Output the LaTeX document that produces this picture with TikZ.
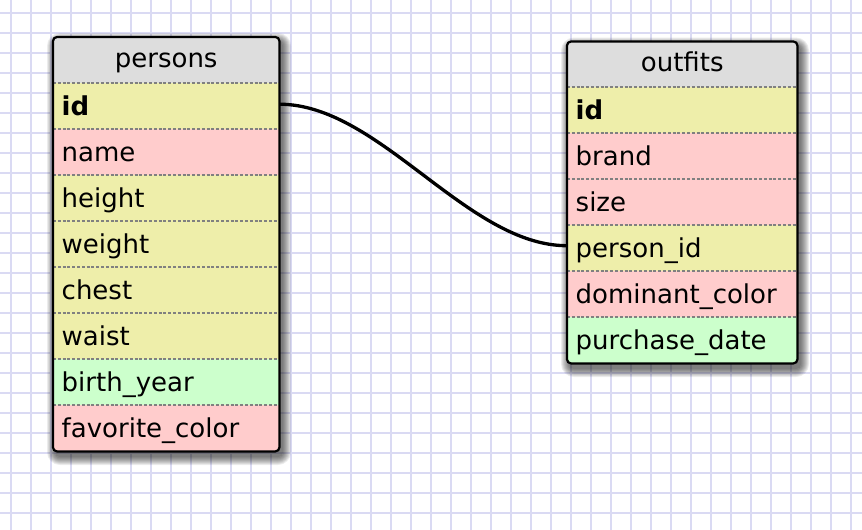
\documentclass[tikz,border=0pt]{standalone}
\usepackage{fontspec}
\setmainfont{DejaVu Sans}
\definecolor{gridc}{RGB}{218,218,243}
\definecolor{hdr}{RGB}{221,221,221}
\definecolor{yel}{RGB}{238,238,170}
\definecolor{pnk}{RGB}{255,204,204}
\definecolor{grn}{RGB}{204,255,204}
\definecolor{sepc}{RGB}{128,128,128}
\begin{document}
\begin{tikzpicture}[x=1pt,y=-1pt,
  field/.style={rectangle, anchor=north west, inner xsep=8.5pt, inner ysep=0pt,
    minimum height=46pt, text height=20pt, text depth=2pt, align=left,
    font=\fontsize{26}{30}\selectfont},
  pfield/.style={field, text width=209pt},
  ofield/.style={field, text width=213pt},
  hdrfield/.style={align=center, text height=18pt, text depth=3pt, fill=hdr},
  sep/.style={draw=sepc, line width=2pt, dash pattern=on 3pt off 1.8pt},
  border/.style={draw=black, line width=2.2pt, rounded corners=4pt},
  shadowlayer/.style={fill=black, fill opacity=0.075},
  conn/.style={draw=black, line width=3.3pt}
]
\useasboundingbox (0,0) rectangle (862,530);
\fill[white] (0,0) rectangle (862,530);
% grid
\foreach \gx in {11,31,...,851} \draw[gridc, line width=2.2pt] (\gx,0) -- (\gx,530);
\foreach \gy in {13,33,...,513} \draw[gridc, line width=2.2pt] (0,\gy) -- (862,\gy);

% shadows
\foreach \e in {1,...,9} {
  \fill[shadowlayer, rounded corners={4pt+\e pt}] (56-\e,42-\e) rectangle (282+\e,456+\e);
  \fill[shadowlayer, rounded corners={4pt+\e pt}] (570-\e,46.5-\e) rectangle (800+\e,368+\e);
}

% persons table
\begin{scope}
\clip[rounded corners=4pt] (53,37) rectangle (279,451);
\node[pfield, hdrfield] (p-hdr) at (53,37) {persons};
\node[pfield, fill=yel] (p-id) at (53,83) {\textbf{id}};
\node[pfield, fill=pnk] (p-name) at (53,129) {name};
\node[pfield, fill=yel] (p-height) at (53,175) {height};
\node[pfield, fill=yel] (p-weight) at (53,221) {weight};
\node[pfield, fill=yel] (p-chest) at (53,267) {chest};
\node[pfield, fill=yel] (p-waist) at (53,313) {waist};
\node[pfield, fill=grn] (p-birth) at (53,359) {birth\_year};
\node[pfield, fill=pnk] (p-fav) at (53,405) {favorite\_color};
\end{scope}
\foreach \r in {p-id,p-name,p-height,p-weight,p-chest,p-waist,p-birth,p-fav}
  \draw[sep] (\r.north west) -- (\r.north east);
\draw[border] (p-hdr.north west) rectangle (p-fav.south east);

% outfits table
\begin{scope}
\clip[rounded corners=4pt] (567,41.5) rectangle (797,363);
\node[ofield, hdrfield, minimum height=45.5pt] (o-hdr) at (567,41.5) {outfits};
\node[ofield, fill=yel] (o-id) at (567,87) {\textbf{id}};
\node[ofield, fill=pnk] (o-brand) at (567,133) {brand};
\node[ofield, fill=pnk] (o-size) at (567,179) {size};
\node[ofield, fill=yel] (o-pid) at (567,225) {person\_id};
\node[ofield, fill=pnk] (o-dom) at (567,271) {dominant\_color};
\node[ofield, fill=grn] (o-pur) at (567,317) {purchase\_date};
\end{scope}
\foreach \r in {o-id,o-brand,o-size,o-pid,o-dom,o-pur}
  \draw[sep] (\r.north west) -- (\r.north east);
\draw[border] (o-hdr.north west) rectangle (o-pur.south east);

% connector
\draw[conn] ([yshift=2pt]p-id.east) .. controls +(100,0) and +(-100,0) .. ([yshift=2.5pt]o-pid.west);
\end{tikzpicture}
\end{document}
